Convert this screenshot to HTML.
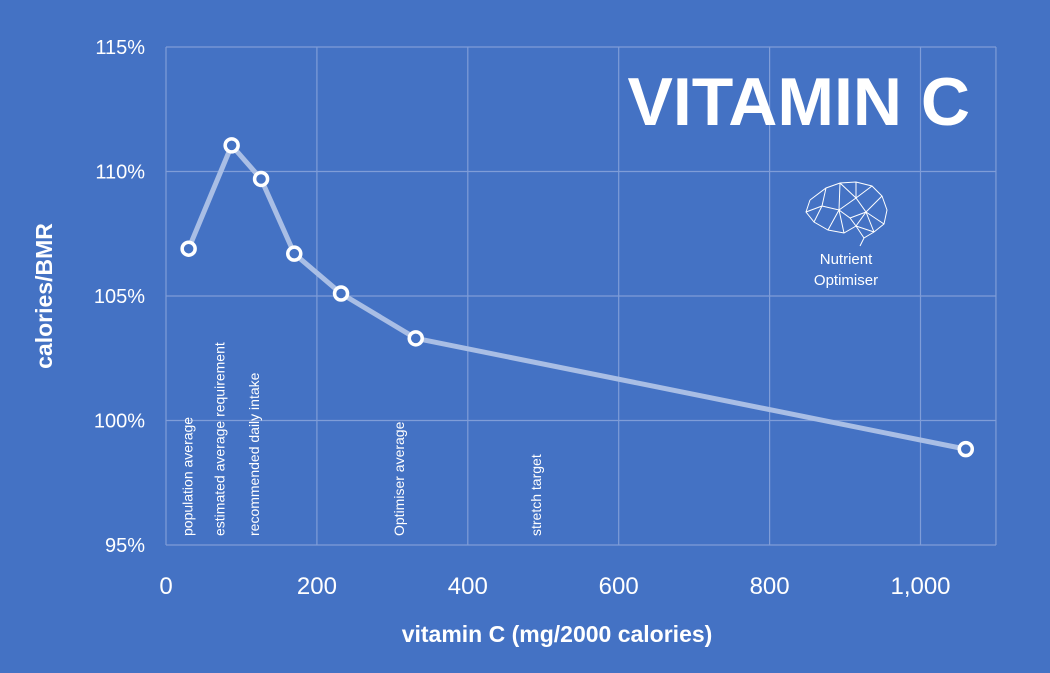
<!DOCTYPE html>
<html><head><meta charset="utf-8"><style>
html,body{margin:0;padding:0;background:#4472C4;}
svg{display:block;font-family:"Liberation Sans",sans-serif;}
</style></head><body>
<svg id="chart" width="1050" height="673" viewBox="0 0 1050 673">
<rect width="1050" height="673" fill="#4472C4"/>
<g id="grid"></g>
<g id="labels"></g>
<g id="series"></g>
<g id="ticks"></g>
<text x="970" y="125" text-anchor="end" font-size="68" font-weight="bold" fill="#fff">VITAMIN C</text>
<g stroke="#fff" stroke-width="1" fill="none">
<path d="M810 200 L826 188 L840 183 L856 182 L872 186 L882 196 L887 210 L884 224 L874 232 L864 238 L860 246 M810 200 L806 212 L814 222 L828 230 L844 233 L856 226 L866 212 L856 198 L840 183 M826 188 L822 206 L814 222 M822 206 L839 210 L856 198 L856 182 M856 198 L872 186 M866 212 L882 196 M866 212 L884 224 M839 210 L828 230 M839 210 L844 233 M839 210 L850 218 L856 226 L864 238 M850 218 L866 212 L874 232 M806 212 L822 206 M840 183 L839 210 M856 226 L874 232"/>
</g>
<text x="846" y="264" text-anchor="middle" font-size="15" fill="#fff">Nutrient</text>
<text x="846" y="285" text-anchor="middle" font-size="15" fill="#fff">Optimiser</text>
<text x="557" y="642" text-anchor="middle" font-size="23" font-weight="bold" fill="#fff">vitamin C (mg/2000 calories)</text>
<text transform="translate(52,296) rotate(-90)" text-anchor="middle" font-size="23" font-weight="bold" fill="#fff">calories/BMR</text>
</svg>
<script>
const xVals=[30,87,126,170,232,331,1060];
const yVals=[106.9,111.05,109.7,106.7,105.1,103.3,98.85];
const xTicks=[0,200,400,600,800,1000];
const xTickLabels=["0","200","400","600","800","1,000"];
const yTicks=[95,100,105,110,115];
const yTickLabels=["95%","100%","105%","110%","115%"];
const refNames=["population average","estimated average requirement","recommended daily intake","Optimiser average","stretch target"];
const refX=[30,72,118,310,492];
const NS="http://www.w3.org/2000/svg";
function sx(v){return 166+v*0.7545;}
function sy(v){return 545-(v-95)*24.9;}
function mk(t,a,p){const e=document.createElementNS(NS,t);for(const k in a)e.setAttribute(k,a[k]);p.appendChild(e);return e;}
const grid=document.getElementById('grid'),ticks=document.getElementById('ticks'),labels=document.getElementById('labels'),series=document.getElementById('series');
xTicks.concat([1100]).forEach(v=>{const l=mk('line',{x1:sx(v),x2:sx(v),y1:47,y2:545,stroke:'#7F9DD8','stroke-width':1.2},grid);

});
yTicks.forEach(v=>{const l=mk('line',{x1:166,x2:996,y1:sy(v),y2:sy(v),stroke:'#7F9DD8','stroke-width':1.2},grid);

});
xTicks.forEach((v,i)=>{const t=mk('text',{x:sx(v),y:594,'text-anchor':'middle','font-size':24,fill:'#fff'},ticks);t.textContent=xTickLabels[i];

});
yTicks.forEach((v,i)=>{const t=mk('text',{x:145,y:sy(v)+7,'text-anchor':'end','font-size':20,fill:'#fff'},ticks);t.textContent=yTickLabels[i];

});
refNames.forEach((n,i)=>{const x=sx(refX[i])+4;const t=mk('text',{transform:`translate(${x},536) rotate(-90)`,'font-size':14,fill:'#fff'},labels);t.textContent=n;

});
const pts=xVals.map((v,i)=>sx(v)+','+sy(yVals[i])).join(' ');
const pl=mk('polyline',{points:pts,fill:'none',stroke:'#A9BEE5','stroke-width':5,'stroke-linejoin':'round'},series);


xVals.forEach((v,i)=>{const c=mk('circle',{cx:sx(v),cy:sy(yVals[i]),r:6.5,fill:'#4472C4',stroke:'#fff','stroke-width':3.5},series);

});
</script>
</body></html>
